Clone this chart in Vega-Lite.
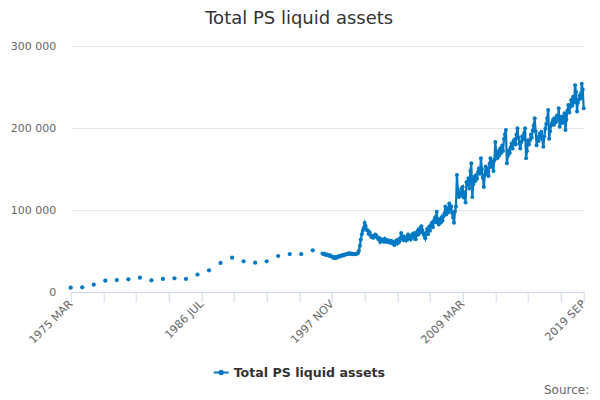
{
  "$schema": "https://vega.github.io/schema/vega-lite/v6.json",
  "autosize": "none",
  "width": 513,
  "height": 246,
  "padding": {"left": 70.7, "top": 46, "right": 16.3, "bottom": 108},
  "background": "#ffffff",
  "title": {
    "text": "Total PS liquid assets",
    "font": "DejaVu Sans",
    "fontSize": 18,
    "fontWeight": "normal",
    "color": "#333333",
    "anchor": "middle",
    "dx": -28,
    "offset": 12
  },
  "config": {"view": {"stroke": null}, "font": "DejaVu Sans"},
  "datasets": {
    "annual": [
      {"d": "1975-03-01", "v": 5200}, {"d": "1976-03-01", "v": 5700}, {"d": "1977-03-01", "v": 8900},
      {"d": "1978-03-01", "v": 13800}, {"d": "1979-03-01", "v": 14600}, {"d": "1980-03-01", "v": 15500},
      {"d": "1981-03-01", "v": 17400}, {"d": "1982-03-01", "v": 14300}, {"d": "1983-03-01", "v": 15900},
      {"d": "1984-03-01", "v": 16700}, {"d": "1985-03-01", "v": 15900}, {"d": "1986-03-01", "v": 21300},
      {"d": "1987-03-01", "v": 26500}, {"d": "1988-03-01", "v": 35400}, {"d": "1989-03-01", "v": 41800},
      {"d": "1990-03-01", "v": 37400}, {"d": "1991-03-01", "v": 35700}, {"d": "1992-03-01", "v": 37400},
      {"d": "1993-03-01", "v": 43900}, {"d": "1994-03-01", "v": 46300}, {"d": "1995-03-01", "v": 46300},
      {"d": "1996-03-01", "v": 50900}
    ],
    "monthly": [
      {"d": "1997-01-01", "v": 47000}, {"d": "1997-02-01", "v": 46200}, {"d": "1997-03-01", "v": 46500}, {"d": "1997-04-01", "v": 45800},
      {"d": "1997-05-01", "v": 45000}, {"d": "1997-06-01", "v": 45600}, {"d": "1997-07-01", "v": 44800}, {"d": "1997-08-01", "v": 44200},
      {"d": "1997-09-01", "v": 44900}, {"d": "1997-10-01", "v": 43600}, {"d": "1997-11-01", "v": 43000}, {"d": "1997-12-01", "v": 42400},
      {"d": "1998-01-01", "v": 41500}, {"d": "1998-02-01", "v": 42800}, {"d": "1998-03-01", "v": 41200}, {"d": "1998-04-01", "v": 42500},
      {"d": "1998-05-01", "v": 43300}, {"d": "1998-06-01", "v": 43000}, {"d": "1998-07-01", "v": 44100}, {"d": "1998-08-01", "v": 43600},
      {"d": "1998-09-01", "v": 44400}, {"d": "1998-10-01", "v": 45000}, {"d": "1998-11-01", "v": 44600}, {"d": "1998-12-01", "v": 45300},
      {"d": "1999-01-01", "v": 45800}, {"d": "1999-02-01", "v": 46400}, {"d": "1999-03-01", "v": 46000}, {"d": "1999-04-01", "v": 46900},
      {"d": "1999-05-01", "v": 47200}, {"d": "1999-06-01", "v": 46500}, {"d": "1999-07-01", "v": 46800}, {"d": "1999-08-01", "v": 46200},
      {"d": "1999-09-01", "v": 45900}, {"d": "1999-10-01", "v": 46400}, {"d": "1999-11-01", "v": 46000}, {"d": "1999-12-01", "v": 46300},
      {"d": "2000-01-01", "v": 46800}, {"d": "2000-02-01", "v": 47500}, {"d": "2000-03-01", "v": 50200}, {"d": "2000-04-01", "v": 56500},
      {"d": "2000-05-01", "v": 64000}, {"d": "2000-06-01", "v": 70500}, {"d": "2000-07-01", "v": 74800}, {"d": "2000-08-01", "v": 78200},
      {"d": "2000-09-01", "v": 84000}, {"d": "2000-10-01", "v": 80600}, {"d": "2000-11-01", "v": 76000}, {"d": "2000-12-01", "v": 75200},
      {"d": "2001-01-01", "v": 71000}, {"d": "2001-02-01", "v": 72800}, {"d": "2001-03-01", "v": 69500}, {"d": "2001-04-01", "v": 67200},
      {"d": "2001-05-01", "v": 68400}, {"d": "2001-06-01", "v": 66100}, {"d": "2001-07-01", "v": 67900}, {"d": "2001-08-01", "v": 70200},
      {"d": "2001-09-01", "v": 68800}, {"d": "2001-10-01", "v": 66400}, {"d": "2001-11-01", "v": 64500}, {"d": "2001-12-01", "v": 65800},
      {"d": "2002-01-01", "v": 61200}, {"d": "2002-02-01", "v": 64300}, {"d": "2002-03-01", "v": 62000}, {"d": "2002-04-01", "v": 63500},
      {"d": "2002-05-01", "v": 61400}, {"d": "2002-06-01", "v": 64800}, {"d": "2002-07-01", "v": 62600}, {"d": "2002-08-01", "v": 60900},
      {"d": "2002-09-01", "v": 63200}, {"d": "2002-10-01", "v": 61800}, {"d": "2002-11-01", "v": 60300}, {"d": "2002-12-01", "v": 62400},
      {"d": "2003-01-01", "v": 59800}, {"d": "2003-02-01", "v": 61500}, {"d": "2003-03-01", "v": 58600}, {"d": "2003-04-01", "v": 57200},
      {"d": "2003-05-01", "v": 60400}, {"d": "2003-06-01", "v": 62800}, {"d": "2003-07-01", "v": 59500}, {"d": "2003-08-01", "v": 63600},
      {"d": "2003-09-01", "v": 61200}, {"d": "2003-10-01", "v": 65400}, {"d": "2003-11-01", "v": 71800}, {"d": "2003-12-01", "v": 66200},
      {"d": "2004-01-01", "v": 63500}, {"d": "2004-02-01", "v": 67400}, {"d": "2004-03-01", "v": 64800}, {"d": "2004-04-01", "v": 62900},
      {"d": "2004-05-01", "v": 66300}, {"d": "2004-06-01", "v": 69800}, {"d": "2004-07-01", "v": 65200}, {"d": "2004-08-01", "v": 68400},
      {"d": "2004-09-01", "v": 64500}, {"d": "2004-10-01", "v": 67900}, {"d": "2004-11-01", "v": 70600}, {"d": "2004-12-01", "v": 66800},
      {"d": "2005-01-01", "v": 72000}, {"d": "2005-02-01", "v": 64200}, {"d": "2005-03-01", "v": 69500}, {"d": "2005-04-01", "v": 74300},
      {"d": "2005-05-01", "v": 70100}, {"d": "2005-06-01", "v": 76500}, {"d": "2005-07-01", "v": 73200}, {"d": "2005-08-01", "v": 80200},
      {"d": "2005-09-01", "v": 75600}, {"d": "2005-10-01", "v": 71300}, {"d": "2005-11-01", "v": 68600}, {"d": "2005-12-01", "v": 65400},
      {"d": "2006-01-01", "v": 72500}, {"d": "2006-02-01", "v": 76800}, {"d": "2006-03-01", "v": 70400}, {"d": "2006-04-01", "v": 79500},
      {"d": "2006-05-01", "v": 74600}, {"d": "2006-06-01", "v": 81800}, {"d": "2006-07-01", "v": 84300}, {"d": "2006-08-01", "v": 78900},
      {"d": "2006-09-01", "v": 86500}, {"d": "2006-10-01", "v": 90200}, {"d": "2006-11-01", "v": 85100}, {"d": "2006-12-01", "v": 97800},
      {"d": "2007-01-01", "v": 86500}, {"d": "2007-02-01", "v": 82200}, {"d": "2007-03-01", "v": 88600}, {"d": "2007-04-01", "v": 84400},
      {"d": "2007-05-01", "v": 90800}, {"d": "2007-06-01", "v": 87300}, {"d": "2007-07-01", "v": 92100}, {"d": "2007-08-01", "v": 95600},
      {"d": "2007-09-01", "v": 104200}, {"d": "2007-10-01", "v": 94500}, {"d": "2007-11-01", "v": 101800}, {"d": "2007-12-01", "v": 97200},
      {"d": "2008-01-01", "v": 108000}, {"d": "2008-02-01", "v": 101500}, {"d": "2008-03-01", "v": 104600}, {"d": "2008-04-01", "v": 96300},
      {"d": "2008-05-01", "v": 90800}, {"d": "2008-06-01", "v": 84500}, {"d": "2008-07-01", "v": 98200}, {"d": "2008-08-01", "v": 104300},
      {"d": "2008-09-01", "v": 142700}, {"d": "2008-10-01", "v": 124500}, {"d": "2008-11-01", "v": 116000}, {"d": "2008-12-01", "v": 120800},
      {"d": "2009-01-01", "v": 118500}, {"d": "2009-02-01", "v": 126400}, {"d": "2009-03-01", "v": 128000}, {"d": "2009-04-01", "v": 115200},
      {"d": "2009-05-01", "v": 121600}, {"d": "2009-06-01", "v": 109000}, {"d": "2009-07-01", "v": 134000}, {"d": "2009-08-01", "v": 130500},
      {"d": "2009-09-01", "v": 138800}, {"d": "2009-10-01", "v": 126200}, {"d": "2009-11-01", "v": 147500}, {"d": "2009-12-01", "v": 157000},
      {"d": "2010-01-01", "v": 116000}, {"d": "2010-02-01", "v": 131400}, {"d": "2010-03-01", "v": 140600}, {"d": "2010-04-01", "v": 135200},
      {"d": "2010-05-01", "v": 142800}, {"d": "2010-06-01", "v": 138100}, {"d": "2010-07-01", "v": 146500}, {"d": "2010-08-01", "v": 151000},
      {"d": "2010-09-01", "v": 144200}, {"d": "2010-10-01", "v": 163000}, {"d": "2010-11-01", "v": 149600}, {"d": "2010-12-01", "v": 139400},
      {"d": "2011-01-01", "v": 128000}, {"d": "2011-02-01", "v": 142500}, {"d": "2011-03-01", "v": 153000}, {"d": "2011-04-01", "v": 146800},
      {"d": "2011-05-01", "v": 150200}, {"d": "2011-06-01", "v": 141600}, {"d": "2011-07-01", "v": 156300}, {"d": "2011-08-01", "v": 163000},
      {"d": "2011-09-01", "v": 152400}, {"d": "2011-10-01", "v": 158800}, {"d": "2011-11-01", "v": 147500}, {"d": "2011-12-01", "v": 160600},
      {"d": "2012-01-01", "v": 183000}, {"d": "2012-02-01", "v": 168400}, {"d": "2012-03-01", "v": 163000}, {"d": "2012-04-01", "v": 171500},
      {"d": "2012-05-01", "v": 166200}, {"d": "2012-06-01", "v": 175000}, {"d": "2012-07-01", "v": 169400}, {"d": "2012-08-01", "v": 178600},
      {"d": "2012-09-01", "v": 172100}, {"d": "2012-10-01", "v": 186500}, {"d": "2012-11-01", "v": 192400}, {"d": "2012-12-01", "v": 197600},
      {"d": "2013-01-01", "v": 157000}, {"d": "2013-02-01", "v": 166000}, {"d": "2013-03-01", "v": 172000}, {"d": "2013-04-01", "v": 169800},
      {"d": "2013-05-01", "v": 176400}, {"d": "2013-06-01", "v": 181000}, {"d": "2013-07-01", "v": 175000}, {"d": "2013-08-01", "v": 184000},
      {"d": "2013-09-01", "v": 186000}, {"d": "2013-10-01", "v": 180000}, {"d": "2013-11-01", "v": 192000}, {"d": "2013-12-01", "v": 199600},
      {"d": "2014-01-01", "v": 188000}, {"d": "2014-02-01", "v": 181000}, {"d": "2014-03-01", "v": 175000}, {"d": "2014-04-01", "v": 183000},
      {"d": "2014-05-01", "v": 190000}, {"d": "2014-06-01", "v": 186000}, {"d": "2014-07-01", "v": 194000}, {"d": "2014-08-01", "v": 199600},
      {"d": "2014-09-01", "v": 163000}, {"d": "2014-10-01", "v": 172000}, {"d": "2014-11-01", "v": 185000}, {"d": "2014-12-01", "v": 180000},
      {"d": "2015-01-01", "v": 185000}, {"d": "2015-02-01", "v": 192000}, {"d": "2015-03-01", "v": 188000}, {"d": "2015-04-01", "v": 197000},
      {"d": "2015-05-01", "v": 203000}, {"d": "2015-06-01", "v": 212000}, {"d": "2015-07-01", "v": 196000}, {"d": "2015-08-01", "v": 179000},
      {"d": "2015-09-01", "v": 189000}, {"d": "2015-10-01", "v": 184000}, {"d": "2015-11-01", "v": 193000}, {"d": "2015-12-01", "v": 190000},
      {"d": "2016-01-01", "v": 195500}, {"d": "2016-02-01", "v": 186000}, {"d": "2016-03-01", "v": 177000}, {"d": "2016-04-01", "v": 190000},
      {"d": "2016-05-01", "v": 199000}, {"d": "2016-06-01", "v": 205000}, {"d": "2016-07-01", "v": 212000}, {"d": "2016-08-01", "v": 222000},
      {"d": "2016-09-01", "v": 187000}, {"d": "2016-10-01", "v": 196000}, {"d": "2016-11-01", "v": 203000}, {"d": "2016-12-01", "v": 206000},
      {"d": "2017-01-01", "v": 209800}, {"d": "2017-02-01", "v": 204000}, {"d": "2017-03-01", "v": 212000}, {"d": "2017-04-01", "v": 207000},
      {"d": "2017-05-01", "v": 215000}, {"d": "2017-06-01", "v": 210000}, {"d": "2017-07-01", "v": 224000}, {"d": "2017-08-01", "v": 201600},
      {"d": "2017-09-01", "v": 208000}, {"d": "2017-10-01", "v": 214000}, {"d": "2017-11-01", "v": 206000}, {"d": "2017-12-01", "v": 212000},
      {"d": "2018-01-01", "v": 218000}, {"d": "2018-02-01", "v": 197600}, {"d": "2018-03-01", "v": 210000}, {"d": "2018-04-01", "v": 221000},
      {"d": "2018-05-01", "v": 228000}, {"d": "2018-06-01", "v": 219000}, {"d": "2018-07-01", "v": 226000}, {"d": "2018-08-01", "v": 234000},
      {"d": "2018-09-01", "v": 227000}, {"d": "2018-10-01", "v": 238000}, {"d": "2018-11-01", "v": 231000}, {"d": "2018-12-01", "v": 252000},
      {"d": "2019-01-01", "v": 244000}, {"d": "2019-02-01", "v": 220000}, {"d": "2019-03-01", "v": 231000}, {"d": "2019-04-01", "v": 235000},
      {"d": "2019-05-01", "v": 240000}, {"d": "2019-06-01", "v": 236000}, {"d": "2019-07-01", "v": 254000}, {"d": "2019-08-01", "v": 247000},
      {"d": "2019-09-01", "v": 224000}
    ]
  },
  "encoding": {
    "x": {
      "field": "d",
      "type": "temporal",
      "scale": {
        "type": "utc",
        "domain": [
          {"year": 1975, "month": 3, "date": 1, "utc": true},
          {"year": 2019, "month": 9, "date": 1, "utc": true}
        ],
        "nice": false
      },
      "axis": {
        "values": [
          {"year": 1975, "month": 3, "date": 1, "utc": true},
          {"year": 1978, "month": 1, "date": 1, "utc": true},
          {"year": 1980, "month": 11, "date": 1, "utc": true},
          {"year": 1983, "month": 9, "date": 1, "utc": true},
          {"year": 1986, "month": 7, "date": 1, "utc": true},
          {"year": 1989, "month": 5, "date": 1, "utc": true},
          {"year": 1992, "month": 3, "date": 1, "utc": true},
          {"year": 1995, "month": 1, "date": 1, "utc": true},
          {"year": 1997, "month": 11, "date": 1, "utc": true},
          {"year": 2000, "month": 9, "date": 1, "utc": true},
          {"year": 2003, "month": 7, "date": 1, "utc": true},
          {"year": 2006, "month": 5, "date": 1, "utc": true},
          {"year": 2009, "month": 3, "date": 1, "utc": true},
          {"year": 2012, "month": 1, "date": 1, "utc": true},
          {"year": 2014, "month": 11, "date": 1, "utc": true},
          {"year": 2017, "month": 9, "date": 1, "utc": true},
          {"year": 2019, "month": 9, "date": 1, "utc": true}
        ],
        "labelExpr": "indexof(['1975-03', '1986-07', '1997-11', '2009-03', '2019-09'], utcFormat(datum.value, '%Y-%m')) >= 0 ? upper(utcFormat(datum.value, '%Y %b')) : ''",
        "labelAngle": -45,
        "labelAlign": "right",
        "labelBaseline": "middle",
        "labelPadding": 0,
        "labelColor": "#666666",
        "labelFontSize": 11,
        "labelOverlap": false,
        "labelBound": false,
        "labelFlush": false,
        "domainColor": "#ccd6eb",
        "tickColor": "#ccd6eb",
        "tickSize": 10,
        "grid": false,
        "title": "Source:",
        "titleAnchor": "end",
        "titleAlign": "right",
        "titleBaseline": "alphabetic",
        "titleX": 518,
        "titleY": 101,
        "titleColor": "#666666",
        "titleFontSize": 12,
        "titleFontWeight": "normal"
      }
    },
    "y": {
      "field": "v",
      "type": "quantitative",
      "scale": {"domain": [0, 300000], "nice": false},
      "axis": {
        "values": [0, 100000, 200000, 300000],
        "labelExpr": "replace(format(datum.value, ','), ',', ' ')",
        "domain": false,
        "ticks": false,
        "gridColor": "#e6e6e6",
        "labelColor": "#666666",
        "labelFontSize": 11,
        "labelPadding": 15,
        "title": null
      }
    },
    "color": {
      "datum": "Total PS liquid assets",
      "type": "nominal",
      "scale": {"range": ["#0079c4"]},
      "legend": {
        "title": null,
        "orient": "none",
        "legendX": 142,
        "legendY": 318,
        "labelFontSize": 12.6,
        "labelFontWeight": "bold",
        "labelColor": "#333333",
        "symbolType": "M-1,0L1,0M-0.22,0A0.22,0.22,0,1,0,0.22,0A0.22,0.22,0,1,0,-0.22,0Z",
        "symbolSize": 225,
        "symbolStrokeWidth": 2,
        "symbolFillColor": "#0079c4",
        "symbolStrokeColor": "#0079c4",
        "symbolOpacity": 1
      }
    }
  },
  "layer": [
    {
      "data": {"name": "annual"},
      "mark": {"type": "point", "filled": true, "size": 18, "opacity": 1}
    },
    {
      "data": {"name": "monthly"},
      "mark": {
        "type": "line",
        "strokeWidth": 2.2,
        "point": {"filled": true, "size": 16, "opacity": 1}
      }
    }
  ]
}
